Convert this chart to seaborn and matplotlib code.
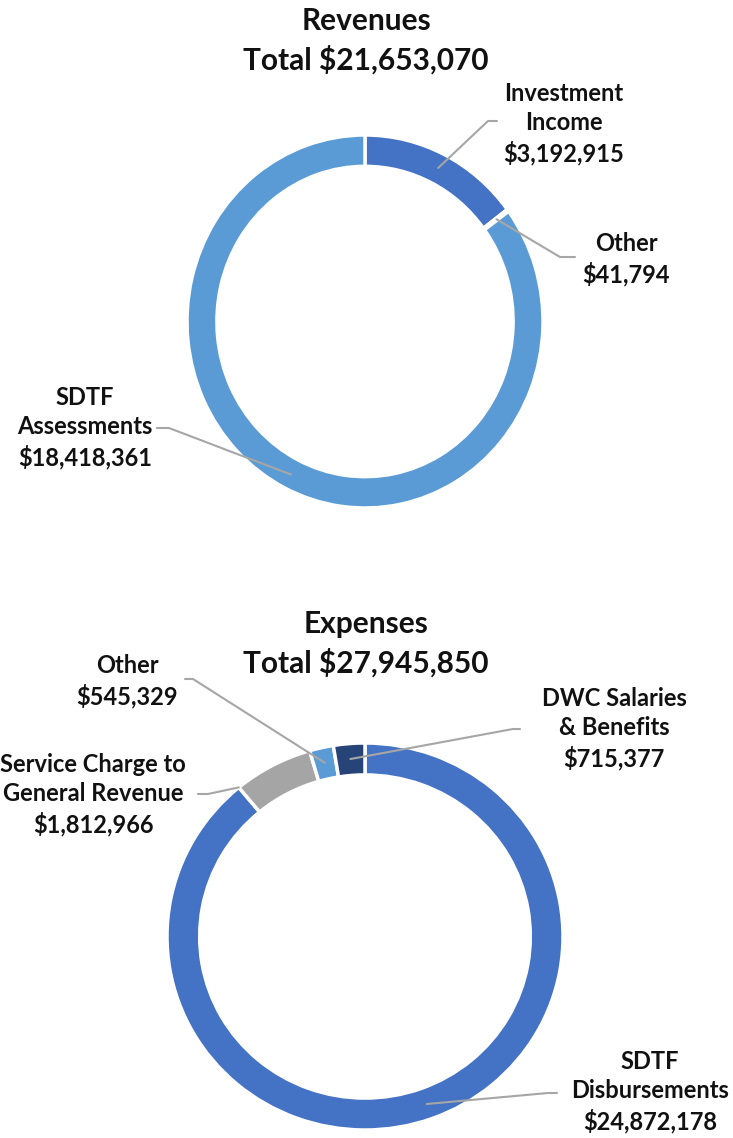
import numpy as np
import matplotlib
matplotlib.use("Agg")
import matplotlib.pyplot as plt
from matplotlib.lines import Line2D
import seaborn as sns

# data
rev_labels = ["Investment\nIncome", "Other", "SDTF\nAssessments"]
rev_values = [3192915, 41794, 18418361]
rev_colors = ["#4472C4", "#A5A5A5", "#5B9BD5"]

exp_labels = ["SDTF\nDisbursements", "Service Charge to\nGeneral Revenue", "Other", "DWC Salaries\n& Benefits"]
exp_values = [24872178, 1812966, 545329, 715377]
exp_colors = ["#4472C4", "#A5A5A5", "#5B9BD5", "#264478"]

sns.set_theme(style="white")
plt.rcParams["font.family"] = ["Lato", "DejaVu Sans"]

W, H = 733, 1138
fig = plt.figure(figsize=(W / 100, H / 100), dpi=100)


def px_axes(left, top, right, bottom):
    # axes box given in image pixels (y from top)
    return fig.add_axes([left / W, 1 - bottom / H, (right - left) / W, (bottom - top) / H])


def donut(ax, values, colors, width):
    wedges, _ = ax.pie(values, colors=colors, startangle=90, counterclock=False,
                       radius=1, wedgeprops=dict(width=width, edgecolor="white", linewidth=2.5))
    ax.set_xlim(-1, 1)
    ax.set_ylim(-1, 1)
    ax.set_aspect("auto")
    ax.axis("off")
    return wedges


def label(ax, wedge, text, value, txt_xy, end_xy, elbow_x, frac=0.5, r=0.92):
    # text and leader line; positions in image pixels
    t = np.deg2rad(wedge.theta1 + frac * (wedge.theta2 - wedge.theta1))
    ax_px = ax.transData.transform((r * np.cos(t), r * np.sin(t)))
    fig.text(txt_xy[0] / W, 1 - txt_xy[1] / H, f"{text}\n${value:,}", ha="center", va="center",
             multialignment="center", fontsize=17, fontweight="bold", color="#111111",
             linespacing=1.33)
    xs = [end_xy[0], elbow_x, ax_px[0]]
    ys = [H - end_xy[1], H - end_xy[1], ax_px[1]]
    fig.add_artist(Line2D(xs, ys, transform=None, color="#A6A6A6", lw=1.5))


# revenues
ax1 = px_axes(187, 135, 543, 508)
w1 = donut(ax1, rev_values, rev_colors, 0.168)
fig.text(366 / W, 1 - 41 / H, f"Revenues\nTotal ${sum(rev_values):,}", ha="center", va="center",
         fontsize=21.5, fontweight="bold", color="#111111", linespacing=1.4)

# expenses
ax2 = px_axes(167, 743, 563, 1130)
w2 = donut(ax2, exp_values, exp_colors, 0.165)
fig.text(366 / W, 1 - 644 / H, f"Expenses\nTotal ${sum(exp_values):,}", ha="center", va="center",
         fontsize=21.5, fontweight="bold", color="#111111", linespacing=1.4)

fig.canvas.draw()
label(ax1, w1[0], rev_labels[0], rev_values[0], (564, 124), (497, 121), 488)
label(ax1, w1[1], rev_labels[1], rev_values[1], (626, 259), (575, 257), 560)
label(ax1, w1[2], rev_labels[2], rev_values[2], (85, 428), (157, 428), 169)

label(ax2, w2[0], exp_labels[0], exp_values[0], (650, 1092), (557, 1093), 548)
label(ax2, w2[1], exp_labels[1], exp_values[1], (93, 795), (198, 794), 208, frac=1.0, r=1.0)
label(ax2, w2[2], exp_labels[2], exp_values[2], (127, 681), (185, 679), 193)
label(ax2, w2[3], exp_labels[3], exp_values[3], (614, 729), (520, 729), 513)

fig.savefig("out.png", dpi=100, facecolor="white")
